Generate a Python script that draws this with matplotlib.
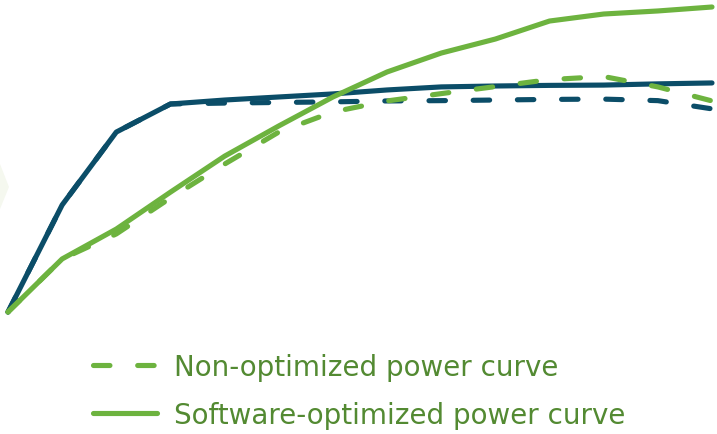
import matplotlib
matplotlib.use("Agg")
import matplotlib.pyplot as plt
from matplotlib.patches import Polygon

# Operating points along the load range (arbitrary steps)
steps = list(range(14))

# Normalised power output (% of maximum)
navy_solid = [0, 35.1, 59.0, 68.2, 69.5, 70.5, 71.5, 72.8, 73.8, 74.1, 74.3, 74.4, 74.8, 75.1]
navy_dashed = [0, 35.1, 59.0, 68.2, 68.5, 68.7, 68.9, 69.2, 69.3, 69.5, 69.7, 69.8, 69.3, 66.6]
green_solid = [0, 17.4, 27.2, 39.3, 51.1, 61.0, 70.5, 78.7, 84.9, 89.5, 95.4, 97.7, 98.7, 100.0]
green_dashed = [0, 17.4, 25.6, 37.4, 48.5, 59.0, 65.6, 69.2, 71.6, 73.9, 76.2, 77.2, 73.8, 69.2]

labels = ["Non-optimized power curve", "Software-optimized power curve"]

NAVY = "#0b4d68"
GREEN = "#6db33f"
TEXT_GREEN = "#538a32"

W, H = 717, 435
fig = plt.figure(figsize=(W / 100, H / 100), dpi=100)

# faint background chevron at the left edge
fig.patches.append(Polygon([(0 / W, 1 - 165 / H), (9 / W, 1 - 188 / H), (0 / W, 1 - 210 / H)],
                           closed=True, transform=fig.transFigure,
                           facecolor="#f5f8ef", edgecolor="none", zorder=0))

ax = fig.add_axes([8 / W, (H - 313) / H, 704 / W, 305 / H])
ax.set_xlim(0, 13)
ax.set_ylim(0, 100)
ax.axis("off")

lw = 3.7
dash = (3.2, 5.4)
common = dict(lw=lw, solid_capstyle="round", dash_capstyle="round", clip_on=False)

ax.plot(steps, navy_dashed, color=NAVY, ls=(0, dash), label="_nolegend_", **common)
ax.plot(steps, navy_solid, color=NAVY, label="_nolegend_", **common)
gd, = ax.plot(steps, green_dashed, color=GREEN, ls=(0, dash), label=labels[0], **common)
gs, = ax.plot(steps, green_solid, color=GREEN, label=labels[1], **common)

leg = ax.legend(handles=[gd, gs], loc="upper left",
                bbox_to_anchor=(93 / W, 1 - 354 / H), bbox_transform=fig.transFigure,
                frameon=False, fontsize=20, handlelength=2.3, handletextpad=0.6,
                labelspacing=0.72, borderpad=0, borderaxespad=0)
for t in leg.get_texts():
    t.set_color(TEXT_GREEN)

fig.savefig("out.png", dpi=100)
